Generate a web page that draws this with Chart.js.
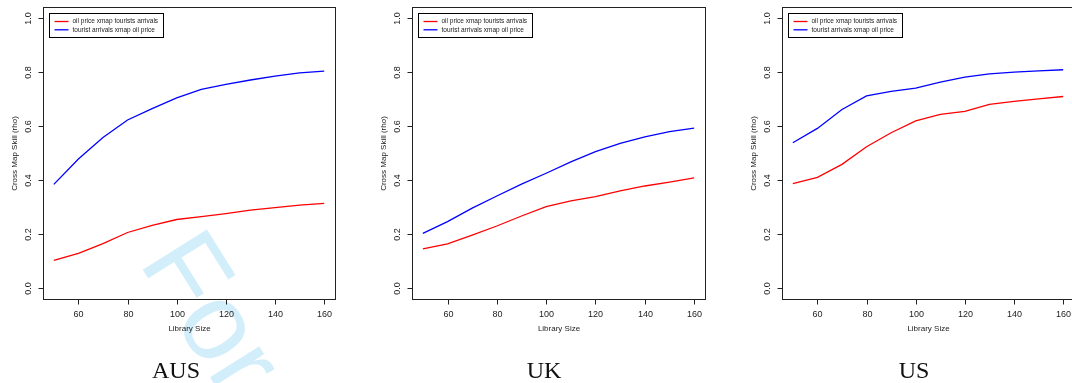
<!DOCTYPE html>
<html>
<head>
<meta charset="utf-8">
<script src="https://cdn.jsdelivr.net/npm/chart.js@4/dist/chart.umd.min.js"></script>
<style>
  html, body { margin: 0; padding: 0; width: 1072px; height: 383px; overflow: hidden; background: #fff; }
  #wm { position: absolute; left: 0; top: 0; z-index: 0; }
  .panel { position: absolute; top: 0; width: 360px; height: 383px; z-index: 1; }
</style>
</head>
<body>
<canvas id="wm" width="1072" height="383"></canvas>
<div class="panel" style="left:0px"><canvas id="c0" width="360" height="383"></canvas></div>
<div class="panel" style="left:360px"><canvas id="c1" width="360" height="383"></canvas></div>
<div class="panel" style="left:720px"><canvas id="c2" width="360" height="383"></canvas></div>
<script>
// ---- data ----
const librarySize = [50, 60, 70, 80, 90, 100, 110, 120, 130, 140, 150, 160];
const xTicks = [60, 80, 100, 120, 140, 160];
const xTickLabels = ['60', '80', '100', '120', '140', '160'];
const yTicks = [0, 0.2, 0.4, 0.6, 0.8, 1.0];
const yTickLabels = ['0.0', '0.2', '0.4', '0.6', '0.8', '1.0'];
const seriesLabels = ['oil price xmap tourists arrivals', 'tourist arrivals xmap oil price'];
const panelTitles = ['AUS', 'UK', 'US'];
const xAxisTitle = 'Library Size';
const yAxisTitle = 'Cross Map Skill (rho)';

const ausOilXmapTourist = [0.103, 0.129, 0.165, 0.206, 0.232, 0.254, 0.265, 0.276, 0.289, 0.298, 0.307, 0.314];
const ausTouristXmapOil = [0.384, 0.478, 0.557, 0.622, 0.664, 0.704, 0.735, 0.754, 0.770, 0.784, 0.796, 0.803];
const ukOilXmapTourist  = [0.145, 0.164, 0.196, 0.230, 0.267, 0.302, 0.323, 0.339, 0.360, 0.378, 0.392, 0.408];
const ukTouristXmapOil  = [0.203, 0.246, 0.296, 0.341, 0.385, 0.425, 0.467, 0.505, 0.536, 0.560, 0.579, 0.592];
const usOilXmapTourist  = [0.387, 0.410, 0.458, 0.523, 0.575, 0.619, 0.643, 0.654, 0.680, 0.691, 0.700, 0.709];
const usTouristXmapOil  = [0.538, 0.591, 0.661, 0.711, 0.728, 0.740, 0.762, 0.781, 0.793, 0.799, 0.804, 0.808];

const panelSeries = [
  [ausOilXmapTourist, ausTouristXmapOil],
  [ukOilXmapTourist, ukTouristXmapOil],
  [usOilXmapTourist, usTouristXmapOil]
];

// ---- layout / style ----
const seriesColors = ['#ff0000', '#0000ff'];
const panelLayout = [
  { axisW: 43, padRight: 25, titleX: 176 },
  { axisW: 52, padRight: 15, titleX: 184 },
  { axisW: 62, padRight: 6,  titleX: 194 }
];
const SANS = '"Liberation Sans", Arial, Helvetica, sans-serif';
const INK = '#222';

// watermark
(function () {
  const c = document.getElementById('wm').getContext('2d');
  c.save();
  c.translate(138, 262);
  c.rotate(58 * Math.PI / 180);
  c.fillStyle = '#d3eefb';
  c.font = '110px ' + SANS;
  c.textBaseline = 'alphabetic';
  c.fillText('For Peer Review', 0, 0);
  c.restore();
})();

const rStyle = {
  id: 'rStyle',
  afterDraw(chart, args, opts) {
    const { ctx, chartArea: a, scales: { x, y } } = chart;
    ctx.save();
    ctx.strokeStyle = INK;
    ctx.lineWidth = 1;
    const L = Math.round(a.left) + 0.5, T = Math.round(a.top) + 0.5;
    const R = Math.round(a.right) + 0.5, B = Math.round(a.bottom) + 0.5;
    ctx.strokeRect(L, T, R - L, B - T);

    ctx.fillStyle = INK;
    ctx.font = '9px ' + SANS;
    // x ticks
    ctx.textAlign = 'center';
    ctx.textBaseline = 'middle';
    x.ticks.forEach((t, i) => {
      const px = Math.round(x.getPixelForValue(t.value)) + 0.5;
      ctx.beginPath(); ctx.moveTo(px, B); ctx.lineTo(px, B + 5); ctx.stroke();
      ctx.fillText(xTickLabels[i], px, B + 15);
    });
    // y ticks
    y.ticks.forEach((t, i) => {
      const py = Math.round(y.getPixelForValue(t.value)) + 0.5;
      ctx.beginPath(); ctx.moveTo(L - 5, py); ctx.lineTo(L, py); ctx.stroke();
      ctx.save();
      ctx.translate(L - 15, py);
      ctx.rotate(-Math.PI / 2);
      ctx.fillText(yTickLabels[i], 0, 0);
      ctx.restore();
    });
    // axis titles
    ctx.font = '8px ' + SANS;
    ctx.fillText(xAxisTitle, (L + R) / 2, 329);
    ctx.save();
    ctx.translate(L - 29, (T + B) / 2);
    ctx.rotate(-Math.PI / 2);
    ctx.fillText(yAxisTitle, 0, 0);
    ctx.restore();

    // legend
    const lx = L + 6, ly = T + 6, lw = 114, lh = 24;
    ctx.fillStyle = '#fff';
    ctx.fillRect(lx, ly, lw, lh);
    ctx.strokeStyle = '#000';
    ctx.strokeRect(lx, ly, lw, lh);
    ctx.font = '6.5px ' + SANS;
    ctx.textAlign = 'left';
    ctx.textBaseline = 'middle';
    chart.data.datasets.forEach((ds, i) => {
      const yy = ly + 8 + i * 8.3;
      ctx.strokeStyle = ds.borderColor;
      ctx.lineWidth = 1.3;
      ctx.beginPath(); ctx.moveTo(lx + 5, yy); ctx.lineTo(lx + 19, yy); ctx.stroke();
      ctx.fillStyle = '#222';
      ctx.fillText(ds.label, lx + 23, yy);
    });

    // panel title
    ctx.fillStyle = '#111';
    ctx.font = '24px "Liberation Serif", "Times New Roman", serif';
    ctx.textAlign = 'center';
    ctx.textBaseline = 'alphabetic';
    ctx.fillText(opts.title, opts.titleX, 378);
    ctx.restore();
  }
};

panelSeries.forEach((series, p) => {
  const lay = panelLayout[p];
  new Chart(document.getElementById('c' + p), {
    type: 'line',
    data: {
      datasets: series.map((vals, i) => ({
        label: seriesLabels[i],
        data: librarySize.map((xv, k) => ({ x: xv, y: vals[k] })),
        borderColor: seriesColors[i],
        borderWidth: 1.3,
        pointRadius: 0,
        tension: 0,
        fill: false
      }))
    },
    options: {
      responsive: false,
      animation: false,
      devicePixelRatio: 1,
      layout: { padding: { top: 7, right: lay.padRight, left: 0, bottom: 0 } },
      plugins: {
        legend: { display: false },
        tooltip: { enabled: false },
        rStyle: { title: panelTitles[p], titleX: lay.titleX }
      },
      scales: {
        x: {
          type: 'linear',
          min: 50 - 0.04 * 110,
          max: 160 + 0.04 * 110,
          grid: { display: false },
          border: { display: false },
          ticks: { display: false },
          afterBuildTicks: s => { s.ticks = xTicks.map(v => ({ value: v })); },
          afterFit: s => { s.height = 84; }
        },
        y: {
          type: 'linear',
          min: -0.04,
          max: 1.04,
          grid: { display: false },
          border: { display: false },
          ticks: { display: false },
          afterBuildTicks: s => { s.ticks = yTicks.map(v => ({ value: v })); },
          afterFit: s => { s.width = lay.axisW; }
        }
      }
    },
    plugins: [rStyle]
  });
});
</script>
</body>
</html>
